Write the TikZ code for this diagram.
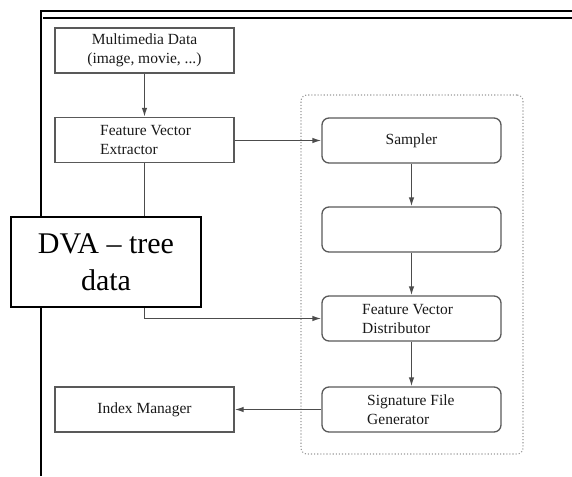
\documentclass[tikz,border=0pt]{standalone}
\usepackage{fontspec}
\setmainfont{Liberation Serif}
\usetikzlibrary{arrows.meta}
\begin{document}
\begin{tikzpicture}[x=1pt,y=-1pt,
  boxfont/.style={font=\fontsize{15.5}{19}\selectfont, text=black!90},
  sqbox/.style={draw=black!65, line width=1.3pt, minimum width=179pt, minimum height=45pt, inner sep=0pt, boxfont},
  rbox/.style={sqbox, rounded corners=7pt},
  conn/.style={draw=black!70, line width=1.3pt},
  arr/.style={conn, -{Latex[length=9pt,width=5.5pt]}},
  lefttext/.style={boxfont, align=left, anchor=west, inner sep=0pt},
  frameline/.style={draw=black, line width=2.2pt}]
\useasboundingbox (0,0) rectangle (572,476);
% page frame
\draw[frameline] (41,476) -- (41,11) -- (572,11);
\draw[draw=black, line width=1.4pt] (43,18) -- (572,18);
% dotted group
\node (grp) [draw=black!40, line width=1.1pt, dotted, rounded corners=6pt, minimum width=222pt, minimum height=359pt, inner sep=0pt] at (412,274.5) {};
% boxes
\node (md) [sqbox, align=center] at (144.5,50.5) {Multimedia Data\\(image, movie, ...)};
\node (fve) [sqbox] at (144.5,140) {};
\node (fvetext) [lefttext] at (100,140) {Feature Vector\\Extractor};
\node (samp) [rbox] at (411.5,140.5) {Sampler};
\node (blank) [rbox] at (411.5,229.5) {};
\node (fvd) [rbox] at (411.5,318.5) {};
\node (fvdtext) [lefttext] at (362,318.5) {Feature Vector\\Distributor};
\node (sfg) [rbox] at (411.5,409.5) {};
\node (sfgtext) [lefttext] at (367,409.5) {Signature File\\Generator};
\node (im) [sqbox] at (144.5,409.5) {Index Manager};
% connectors
\draw[arr] (md) -- (fve);
\draw[arr] (fve.east |- samp) -- (samp.west);
\draw[arr] (samp) -- (blank);
\draw[arr] (blank) -- (fvd);
\draw[arr] (fvd) -- (sfg);
\draw[arr] (sfg.west) -- (im.east);
\coordinate (bend) at (fve.south |- fvd.west);
\draw[arr] (fve.south) -- (bend) -- (fvd.west);
% DVA box on top
\node (dva) [draw=black, fill=white, line width=1.4pt, minimum width=190pt, minimum height=90pt, inner sep=0pt, align=center, font=\fontsize{30}{37}\selectfont] at (106,262) {DVA – tree\\data};
\end{tikzpicture}
\end{document}
